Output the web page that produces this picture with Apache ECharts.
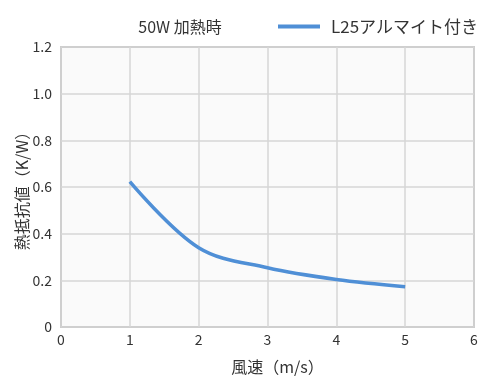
<!DOCTYPE html>
<html>
<head>
<meta charset="utf-8">
<script src="https://cdn.jsdelivr.net/npm/echarts@6/dist/echarts.min.js"></script>
<style>
  html, body { margin: 0; padding: 0; background: #fff; }
  #chart { width: 483px; height: 376px; }
</style>
</head>
<body>
<div id="chart"></div>
<script>
const windSpeed = [1, 2, 3, 4, 5]
const resistance = [0.623, 0.34, 0.254, 0.204, 0.173]
const seriesName = 'L25アルマイト付き'
const xName = '風速（m/s）'
const yName = '熱抵抗値（K/W）'
const titleText = '50W 加熱時'

const font = '"Noto Sans CJK JP", "Noto Sans", sans-serif'
const chart = echarts.init(document.getElementById('chart'))

chart.setOption({
  animation: false,
  textStyle: { fontFamily: font },
  title: {
    text: titleText,
    left: 175,
    top: 14,
    textAlign: 'center',
    textStyle: { fontSize: 16, fontWeight: 'normal', color: '#333', fontFamily: font },
  },
  legend: {
    left: 273,
    top: 13,
    icon: 'rect',
    itemWidth: 42,
    itemHeight: 4,
    textStyle: { fontSize: 17, color: '#333', fontFamily: font, padding: [0, 0, 0, 6] },
    data: [seriesName],
  },
  grid: {
    left: 61,
    right: 9,
    top: 47,
    bottom: 49,
    outerBoundsMode: 'none',
    show: true,
    backgroundColor: '#fafafa',
    borderColor: '#a6a6a6',
    borderWidth: 1.5,
  },
  xAxis: {
    type: 'value',
    min: 0,
    max: 6,
    interval: 1,
    name: xName,
    nameLocation: 'middle',
    nameGap: 32,
    nameMoveOverlap: false,
    nameTextStyle: { fontSize: 16, color: '#333', padding: [0, 0, 0, 20] },
    axisLine: { show: false },
    axisTick: { show: false },
    axisLabel: { color: '#333', fontSize: 14, margin: 6 },
    splitLine: { lineStyle: { color: '#d6d6d6', width: 1.5 } },
  },
  yAxis: {
    type: 'value',
    min: 0,
    max: 1.2,
    interval: 0.2,
    name: yName,
    nameLocation: 'middle',
    nameGap: 31,
    nameMoveOverlap: false,
    nameTextStyle: { fontSize: 16, color: '#333' },
    axisLine: { show: false },
    axisTick: { show: false },
    axisLabel: {
      color: '#333',
      fontSize: 14,
      margin: 9,
      formatter: v => (v === 0 ? '0' : v.toFixed(1)),
    },
    splitLine: { lineStyle: { color: '#d6d6d6', width: 1.5 } },
  },
  series: [
    {
      name: seriesName,
      type: 'line',
      smooth: 0.35,
      showSymbol: false,
      color: '#4f8fd6',
      lineStyle: { width: 3.5, color: '#4f8fd6' },
      data: windSpeed.map((x, i) => [x, resistance[i]]),
    },
  ],
})
</script>
</body>
</html>
